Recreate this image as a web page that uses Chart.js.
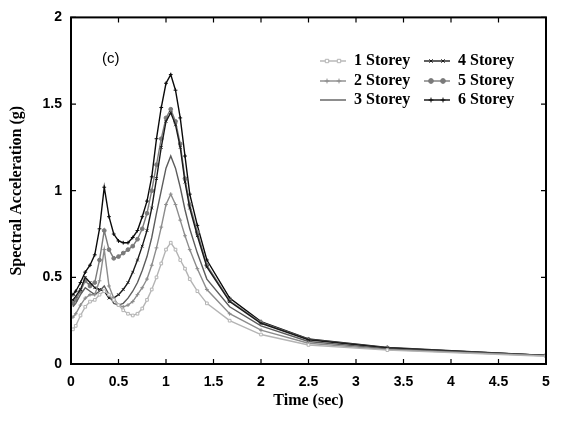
<!DOCTYPE html>
<html>
<head>
<meta charset="utf-8">
<script src="https://cdn.jsdelivr.net/npm/chart.js@4/dist/chart.umd.min.js"></script>
<style>
  html, body { margin: 0; padding: 0; background: #fff; }
  #wrap { width: 565px; height: 428px; position: relative; }
</style>
</head>
<body>
<div id="wrap"><canvas id="specChart"></canvas></div>
<script>
// periods (sec)
const periods = [0.02, 0.05, 0.1, 0.15, 0.2, 0.25, 0.3, 0.35, 0.4, 0.45, 0.5, 0.55, 0.6, 0.65, 0.7, 0.75, 0.8, 0.85, 0.9, 0.95, 1.0, 1.05, 1.1, 1.15, 1.2, 1.25, 1.33, 1.43, 1.67, 2, 2.5, 3.33, 5];

// spectral acceleration (g)
const storey1 = [0.20, 0.22, 0.28, 0.33, 0.36, 0.37, 0.40, 0.42, 0.40, 0.37, 0.34, 0.31, 0.29, 0.28, 0.29, 0.32, 0.37, 0.43, 0.50, 0.58, 0.66, 0.70, 0.66, 0.60, 0.55, 0.49, 0.42, 0.35, 0.25, 0.17, 0.11, 0.08, 0.045];
const storey2 = [0.27, 0.29, 0.34, 0.38, 0.40, 0.40, 0.48, 0.66, 0.45, 0.38, 0.34, 0.33, 0.34, 0.36, 0.40, 0.44, 0.49, 0.57, 0.67, 0.79, 0.92, 0.98, 0.92, 0.83, 0.74, 0.66, 0.55, 0.43, 0.29, 0.195, 0.12, 0.083, 0.047];
const storey3 = [0.33, 0.35, 0.40, 0.44, 0.42, 0.40, 0.42, 0.45, 0.40, 0.35, 0.34, 0.35, 0.38, 0.42, 0.47, 0.54, 0.62, 0.73, 0.87, 1.00, 1.13, 1.20, 1.13, 1.02, 0.89, 0.78, 0.64, 0.49, 0.33, 0.22, 0.13, 0.087, 0.05];
const storey4 = [0.37, 0.39, 0.43, 0.50, 0.47, 0.44, 0.43, 0.42, 0.38, 0.38, 0.40, 0.43, 0.47, 0.53, 0.60, 0.68, 0.77, 0.90, 1.07, 1.25, 1.40, 1.45, 1.38, 1.25, 1.05, 0.90, 0.74, 0.56, 0.36, 0.235, 0.14, 0.092, 0.05];
const storey5 = [0.35, 0.37, 0.42, 0.48, 0.45, 0.47, 0.60, 0.77, 0.66, 0.61, 0.62, 0.64, 0.66, 0.68, 0.72, 0.78, 0.87, 1.00, 1.15, 1.30, 1.42, 1.47, 1.40, 1.27, 1.07, 0.92, 0.76, 0.57, 0.365, 0.24, 0.142, 0.093, 0.05];
const storey6 = [0.40, 0.42, 0.47, 0.53, 0.57, 0.63, 0.78, 1.02, 0.85, 0.75, 0.71, 0.70, 0.70, 0.73, 0.77, 0.85, 0.94, 1.08, 1.30, 1.48, 1.62, 1.67, 1.58, 1.42, 1.20, 0.98, 0.80, 0.60, 0.38, 0.245, 0.145, 0.095, 0.05];

const seriesNames = ['1 Storey', '2 Storey', '3 Storey', '4 Storey', '5 Storey', '6 Storey'];
const seriesData = [storey1, storey2, storey3, storey4, storey5, storey6];
const seriesColors = ['#b4b4b4', '#8c8c8c', '#5c5c5c', '#1a1a1a', '#7a7a7a', '#0a0a0a'];
const seriesPoints = ['rect', 'cross', false, 'crossRot', 'circle', 'cross'];
const seriesFills = ['#ffffff', '#8c8c8c', '#5c5c5c', '#1a1a1a', '#7a7a7a', '#0a0a0a'];

Chart.defaults.font.family = '"Liberation Sans", Arial, sans-serif';
Chart.defaults.color = '#000';

const datasets = seriesData.map((vals, i) => ({
    label: seriesNames[i],
    data: periods.map((p, j) => ({ x: p, y: vals[j] })),
    borderColor: seriesColors[i],
    backgroundColor: seriesFills[i],
    borderWidth: 1.4,
    pointStyle: seriesPoints[i] || 'circle',
    pointRadius: seriesPoints[i] ? 1.9 : 0,
    pointBorderWidth: 1,
    pointBorderColor: seriesColors[i],
    pointBackgroundColor: seriesFills[i],
    tension: 0
}));

// box frame with inward ticks on all sides
const frameTicks = {
    id: 'frameTicks',
    afterDatasetsDraw(chart) {
        const { ctx, chartArea: a, scales } = chart;
        ctx.save();
        ctx.strokeStyle = '#000';
        ctx.lineWidth = 1.2;
        scales.x.ticks.forEach(t => {
            const px = scales.x.getPixelForValue(t.value);
            ctx.beginPath();
            ctx.moveTo(px, a.bottom); ctx.lineTo(px, a.bottom - 5);
            ctx.moveTo(px, a.top); ctx.lineTo(px, a.top + 5);
            ctx.stroke();
        });
        scales.y.ticks.forEach(t => {
            const py = scales.y.getPixelForValue(t.value);
            ctx.beginPath();
            ctx.moveTo(a.left, py); ctx.lineTo(a.left + 5, py);
            ctx.moveTo(a.right, py); ctx.lineTo(a.right - 5, py);
            ctx.stroke();
        });
        ctx.lineWidth = 2;
        ctx.strokeRect(a.left, a.top, a.right - a.left, a.bottom - a.top);

        // panel label
        ctx.fillStyle = '#000';
        ctx.font = '15px "Liberation Sans", Arial, sans-serif';
        ctx.textBaseline = 'middle';
        ctx.textAlign = 'left';
        ctx.fillText('(c)', a.left + 31, a.top + 41);
        ctx.restore();
    }
};

// two column legend inside the plot
const legendBox = {
    id: 'legendBox',
    afterDraw(chart) {
        const ctx = chart.ctx;
        const cols = [{ x0: 320, x1: 346, tx: 354 }, { x0: 424, x1: 450, tx: 458 }];
        const rows = [61, 81, 100];
        ctx.save();
        ctx.font = 'bold 16px "Liberation Serif", "Times New Roman", serif';
        ctx.textBaseline = 'middle';
        ctx.textAlign = 'left';
        chart.data.datasets.forEach((ds, i) => {
            const c = cols[Math.floor(i / 3)];
            const y = rows[i % 3];
            ctx.strokeStyle = ds.borderColor;
            ctx.lineWidth = ds.borderWidth;
            ctx.beginPath();
            ctx.moveTo(c.x0, y); ctx.lineTo(c.x1, y);
            ctx.stroke();
            if (ds.pointRadius > 0) {
                ctx.fillStyle = ds.pointBackgroundColor;
                ctx.lineWidth = 1;
                [c.x0 + 7, c.x1 - 7].forEach(px => {
                    Chart.helpers.drawPoint(ctx, { pointStyle: ds.pointStyle, radius: 2.4, rotation: 0, borderWidth: 1 }, px, y);
                });
            }
            ctx.fillStyle = '#000';
            ctx.fillText(ds.label, c.tx, y);
        });
        ctx.restore();
    }
};

new Chart(document.getElementById('specChart'), {
    type: 'line',
    data: { datasets: datasets },
    options: {
        responsive: true,
        maintainAspectRatio: false,
        animation: false,
        layout: { padding: { left: 0, right: 19, top: 17, bottom: 0 } },
        plugins: {
            legend: { display: false },
            tooltip: { enabled: false }
        },
        scales: {
            x: {
                type: 'linear',
                min: 0,
                max: 5,
                afterFit: s => { s.height = 64; },
                grid: { display: false, drawTicks: false },
                border: { display: false },
                ticks: {
                    stepSize: 0.5,
                    padding: 10,
                    maxRotation: 0,
                    autoSkip: false,
                    callback: v => String(v),
                    font: { size: 14, weight: 'bold' }
                },
                title: {
                    display: true,
                    text: 'Time (sec)',
                    font: { size: 16, weight: 'bold', family: '"Liberation Serif", "Times New Roman", serif' },
                    padding: { top: 0, bottom: 18 }
                }
            },
            y: {
                min: 0,
                max: 2,
                afterFit: s => { s.width = 71; },
                grid: { display: false, drawTicks: false },
                border: { display: false },
                ticks: {
                    stepSize: 0.5,
                    padding: 9,
                    callback: v => String(v),
                    font: { size: 14, weight: 'bold' }
                },
                title: {
                    display: true,
                    text: 'Spectral Acceleration (g)',
                    font: { size: 16, weight: 'bold', family: '"Liberation Serif", "Times New Roman", serif' },
                    padding: { top: 7, bottom: 0 }
                }
            }
        }
    },
    plugins: [frameTicks, legendBox]
});
</script>
</body>
</html>
